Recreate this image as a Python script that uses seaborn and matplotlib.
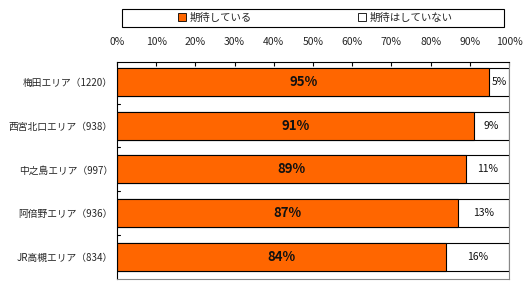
import numpy as np
import pandas as pd
import matplotlib.pyplot as plt
import seaborn as sns
from matplotlib.patches import Patch, Rectangle

# データ
areas = ['梅田エリア（1220）', '西宮北口エリア（938）', '中之島エリア（997）', '阿倍野エリア（936）', 'JR高槻エリア（834）']
kitai = [95, 91, 89, 87, 84]
nashi = [5, 9, 11, 13, 16]
legend_labels = ['期待している', '期待はしていない']

sns.set_theme(style='white')
plt.rcParams['font.family'] = ['Noto Sans CJK JP', 'DejaVu Sans']

df = pd.DataFrame({'area': areas, 'kitai': kitai, 'total': np.array(kitai) + np.array(nashi)})

fig = plt.figure(figsize=(5.23, 2.89), dpi=100)
ax = fig.add_axes([117 / 523, 1 - 279 / 289, 392 / 523, 217 / 289])

sns.barplot(data=df, y='area', x='total', color='white', edgecolor='black',
            linewidth=0.8, width=0.64, saturation=1, ax=ax, orient='h')
sns.barplot(data=df, y='area', x='kitai', color='#FF6600', edgecolor='black',
            linewidth=0.8, width=0.64, saturation=1, ax=ax, orient='h')

for i, (a, b) in enumerate(zip(kitai, nashi)):
    ax.text(a / 2, i, f'{a}%', ha='center', va='center', fontsize=9.5,
            fontweight='bold', color='#111111')
    ax.text(a + b / 2, i, f'{b}%', ha='center', va='center', fontsize=7.5,
            color='#111111')

ax.set_xlim(0, 100)
ax.set_ylim(len(areas) - 0.5, -0.45)
ax.set_xticks(np.arange(0, 101, 10))
ax.set_xticklabels([f'{v}%' for v in range(0, 101, 10)], fontsize=7.5)
ax.xaxis.tick_top()
ax.tick_params(axis='x', direction='in', length=3, width=0.8, color='black', pad=11)
ax.set_yticks(np.arange(len(areas)))
ax.set_yticklabels(areas, fontsize=7)
ax.tick_params(axis='y', length=0, pad=3)
for yb in np.arange(0.5, len(areas) - 0.5, 1):
    ax.plot([0, 0.8], [yb, yb], color='black', lw=0.8, clip_on=False)
ax.set_xlabel('')
ax.set_ylabel('')

ax.spines['top'].set_color('black')
ax.spines['left'].set_color('black')
ax.spines['right'].set_color('#888888')
ax.spines['bottom'].set_color('#888888')
for s in ax.spines.values():
    s.set_linewidth(0.8)

# 凡例
handles = [Patch(facecolor='#FF6600', edgecolor='black', lw=0.6),
           Patch(facecolor='white', edgecolor='black', lw=0.6)]
fig.legend(handles, legend_labels, loc='center', ncol=2,
           bbox_to_anchor=(315 / 523, 1 - 18 / 289), fontsize=7.5,
           frameon=False, handlelength=0.8, handleheight=0.8,
           handletextpad=0.3, columnspacing=10.2)
fig.patches.append(Rectangle((122 / 523, 1 - 27 / 289), 382 / 523, 18 / 289,
                             transform=fig.transFigure, fill=False,
                             edgecolor='black', lw=0.8))

fig.savefig('out.png', dpi=100)
